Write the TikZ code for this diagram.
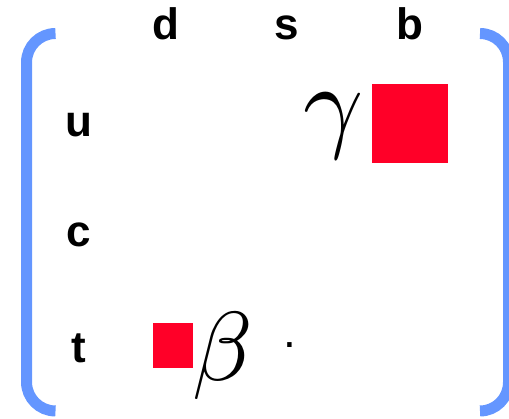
\documentclass[tikz,border=0pt]{standalone}
\usepackage{fontspec}
\setmainfont{Liberation Sans}
\usepackage{xcolor}
\definecolor{ckmblue}{RGB}{100,150,255}
\definecolor{ckmred}{RGB}{255,0,40}
\usepackage{tikz}

\begin{document}
\begin{tikzpicture}[x=1pt,y=1pt]
  \useasboundingbox (0,0) rectangle (509,419);
  % Brackets
  \draw[ckmblue, line width=11pt] (55.5,385.5) arc[start angle=90, end angle=180, radius=29] -- (26.5,37) arc[start angle=180, end angle=270, radius=29];
  \draw[ckmblue, line width=11pt] (480,385.5) arc[start angle=90, end angle=0, radius=28.5] -- (508.5,36.5) arc[start angle=0, end angle=-90, radius=28.5];
  % Column labels
  \node[font=\fontsize{44}{44}\selectfont\bfseries, anchor=base, inner sep=0] (d) at (166,379) {d};
  \node[font=\fontsize{44}{44}\selectfont\bfseries, anchor=base, inner sep=0] (s) at (287,379) {s};
  \node[font=\fontsize{44}{44}\selectfont\bfseries, anchor=base, inner sep=0] (b) at (410,379) {b};
  % Row labels
  \node[font=\fontsize{44}{44}\selectfont\bfseries, anchor=base, inner sep=0] (u) at (79,282) {u};
  \node[font=\fontsize{44}{44}\selectfont\bfseries, anchor=base, inner sep=0] (c) at (79,172) {c};
  \node[font=\fontsize{44}{44}\selectfont\bfseries, anchor=base, inner sep=0] (t) at (79,56) {t};
  % Entries
  \node[fill=ckmred, minimum width=76pt, minimum height=79pt, inner sep=0] (Vub) at (410,295.5) {};
  \node[scale=10.5, inner sep=0] (gamma) at (333.5,293) {$\gamma$};
  \node[fill=ckmred, minimum width=40pt, minimum height=45pt, inner sep=0] (Vtd) at (173,73.5) {};
  \node[scale=9.8, inner sep=0] (beta) at (222.5,62.5) {$\beta$};
  \node[font=\fontsize{46}{46}\selectfont, anchor=base, inner sep=0] (dot) at (289.5,71) {.};
\end{tikzpicture}
\end{document}
